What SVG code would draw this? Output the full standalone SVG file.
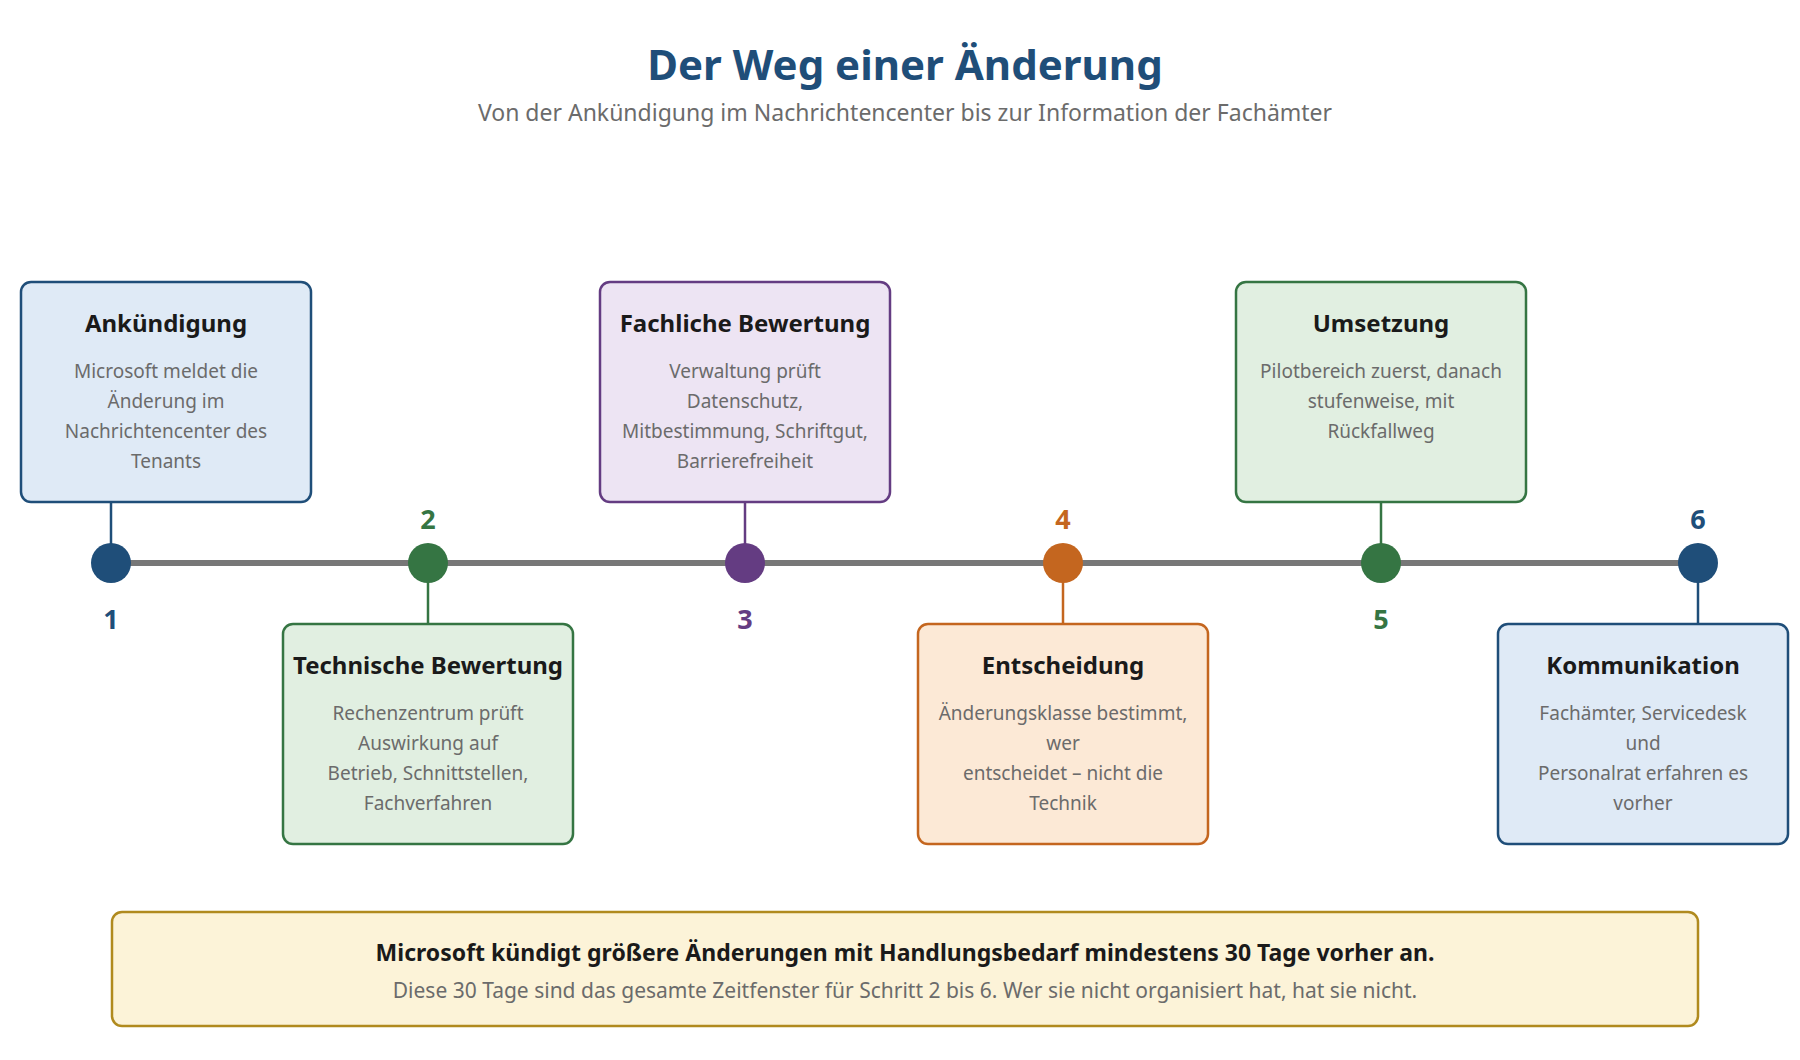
<svg xmlns="http://www.w3.org/2000/svg" width="1800" height="1060" viewBox="0 0 1800 1060">
<style>
text{font-family:"Noto Sans","Open Sans","DejaVu Sans",sans-serif;text-anchor:middle}
.t{font-size:24px;font-weight:bold;fill:#1a1a1a}
.d{font-size:19px;fill:#6b6b6b}
.n{font-size:27px;font-weight:bold}
.box{stroke-width:2.5}
</style>
<rect width="1800" height="1060" fill="#fff"/>
<text x="905" y="80" style="font-size:42px;font-weight:bold;fill:#1f4e79">Der Weg einer Änderung</text>
<text x="905" y="121" style="font-size:23px;fill:#6b6b6b">Von der Ankündigung im Nachrichtencenter bis zur Information der Fachämter</text>
<g id="connectors">
<line x1="111" y1="563" x2="1698" y2="563" stroke="#777" stroke-width="6"/>
<line x1="111" y1="502" x2="111" y2="563" stroke="#1f4e79" stroke-width="2.5"/>
<line x1="428" y1="563" x2="428" y2="624" stroke="#357543" stroke-width="2.5"/>
<line x1="745" y1="502" x2="745" y2="563" stroke="#643c82" stroke-width="2.5"/>
<line x1="1063" y1="563" x2="1063" y2="624" stroke="#c4661f" stroke-width="2.5"/>
<line x1="1381" y1="502" x2="1381" y2="563" stroke="#357543" stroke-width="2.5"/>
<line x1="1698" y1="563" x2="1698" y2="624" stroke="#1f4e79" stroke-width="2.5"/>
</g>
<g id="n1">
<rect class="box" x="21" y="282" width="290" height="220" rx="10" fill="#dfeaf6" stroke="#1f4e79"/>
<text class="t" x="166" y="332">Ankündigung</text>
<text class="d" x="166" y="378">Microsoft meldet die</text><text class="d" x="166" y="408">Änderung im</text><text class="d" x="166" y="438">Nachrichtencenter des</text><text class="d" x="166" y="468">Tenants</text>
<circle cx="111" cy="563" r="20" fill="#1f4e79"/><text class="n" x="111" y="629" fill="#1f4e79">1</text>
</g>
<g id="n2">
<rect class="box" x="283" y="624" width="290" height="220" rx="10" fill="#e1efe1" stroke="#357543"/>
<text class="t" x="428" y="674">Technische Bewertung</text>
<text class="d" x="428" y="720">Rechenzentrum prüft</text><text class="d" x="428" y="750">Auswirkung auf</text><text class="d" x="428" y="780">Betrieb, Schnittstellen,</text><text class="d" x="428" y="810">Fachverfahren</text>
<circle cx="428" cy="563" r="20" fill="#357543"/><text class="n" x="428" y="529" fill="#357543">2</text>
</g>
<g id="n3">
<rect class="box" x="600" y="282" width="290" height="220" rx="10" fill="#ede4f3" stroke="#643c82"/>
<text class="t" x="745" y="332">Fachliche Bewertung</text>
<text class="d" x="745" y="378">Verwaltung prüft</text><text class="d" x="745" y="408">Datenschutz,</text><text class="d" x="745" y="438">Mitbestimmung, Schriftgut,</text><text class="d" x="745" y="468">Barrierefreiheit</text>
<circle cx="745" cy="563" r="20" fill="#643c82"/><text class="n" x="745" y="629" fill="#643c82">3</text>
</g>
<g id="n4">
<rect class="box" x="918" y="624" width="290" height="220" rx="10" fill="#fce9d6" stroke="#c4661f"/>
<text class="t" x="1063" y="674">Entscheidung</text>
<text class="d" x="1063" y="720">Änderungsklasse bestimmt,</text><text class="d" x="1063" y="750">wer</text><text class="d" x="1063" y="780">entscheidet – nicht die</text><text class="d" x="1063" y="810">Technik</text>
<circle cx="1063" cy="563" r="20" fill="#c4661f"/><text class="n" x="1063" y="529" fill="#c4661f">4</text>
</g>
<g id="n5">
<rect class="box" x="1236" y="282" width="290" height="220" rx="10" fill="#e1efe1" stroke="#357543"/>
<text class="t" x="1381" y="332">Umsetzung</text>
<text class="d" x="1381" y="378">Pilotbereich zuerst, danach</text><text class="d" x="1381" y="408">stufenweise, mit</text><text class="d" x="1381" y="438">Rückfallweg</text>
<circle cx="1381" cy="563" r="20" fill="#357543"/><text class="n" x="1381" y="629" fill="#357543">5</text>
</g>
<g id="n6">
<rect class="box" x="1498" y="624" width="290" height="220" rx="10" fill="#dfeaf6" stroke="#1f4e79"/>
<text class="t" x="1643" y="674">Kommunikation</text>
<text class="d" x="1643" y="720">Fachämter, Servicedesk</text><text class="d" x="1643" y="750">und</text><text class="d" x="1643" y="780">Personalrat erfahren es</text><text class="d" x="1643" y="810">vorher</text>
<circle cx="1698" cy="563" r="20" fill="#1f4e79"/><text class="n" x="1698" y="529" fill="#1f4e79">6</text>
</g>
<g id="note">
<rect x="112" y="912" width="1586" height="114" rx="10" fill="#fcf3d8" stroke="#b08a1e" stroke-width="2.5"/>
<text x="905" y="961" style="font-size:23px;font-weight:bold;fill:#1a1a1a">Microsoft kündigt größere Änderungen mit Handlungsbedarf mindestens 30 Tage vorher an.</text>
<text x="905" y="998" style="font-size:21px;fill:#6b6b6b">Diese 30 Tage sind das gesamte Zeitfenster für Schritt 2 bis 6. Wer sie nicht organisiert hat, hat sie nicht.</text>
</g>
</svg>
